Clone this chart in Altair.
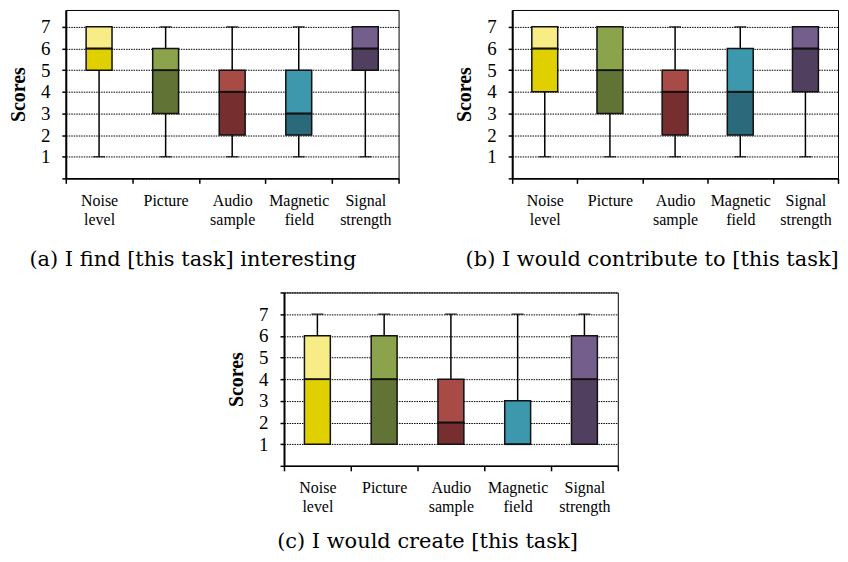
import altair as alt
import pandas as pd

categories = ["Noise level", "Picture", "Audio sample", "Magnetic field", "Signal strength"]
light_colors = ["#F7EC85", "#8BA34B", "#A84B47", "#3D97AD", "#745E8C"]
dark_colors = ["#E0D000", "#617435", "#772E2F", "#2A6A7A", "#503F5E"]

# (a) I find [this task] interesting
a_min = [1, 1, 1, 1, 1]
a_q1 = [5, 3, 2, 2, 5]
a_med = [6, 5, 4, 3, 6]
a_q3 = [7, 6, 5, 5, 7]
a_max = [7, 7, 7, 7, 7]

# (b) I would contribute to [this task]
b_min = [1, 1, 1, 1, 1]
b_q1 = [4, 3, 2, 2, 4]
b_med = [6, 5, 4, 4, 6]
b_q3 = [7, 7, 5, 6, 7]
b_max = [7, 7, 7, 7, 7]

# (c) I would create [this task]
c_min = [1, 1, 1, 1, 1]
c_q1 = [1, 1, 1, 1, 1]
c_med = [4, 4, 2, 1, 4]
c_q3 = [6, 6, 4, 3, 6]
c_max = [7, 7, 7, 7, 7]

captions = ["(a) I find [this task] interesting",
            "(b) I would contribute to [this task]",
            "(c) I would create [this task]"]

SERIF = "Liberation Serif"
CAPFONT = "DejaVu Serif"


def panel(mins, q1, med, q3, maxs, caption, dx, dom_top, height, width, cap_offset):
    df = pd.DataFrame({
        "cat": categories, "mn": mins, "q1": q1, "med": med, "q3": q3, "mx": maxs,
        "light": light_colors, "dark": dark_colors,
    })
    vals = [v for v in range(0, 9) if v <= dom_top]
    x = alt.X("cat:N", sort=categories, title=None,
              axis=alt.Axis(labelAngle=0, labelFont=SERIF, labelFontSize=16,
                            labelColor="black", labelLineHeight=19,
                            labelExpr="split(datum.label, ' ')",
                            labelPadding=9,
                            domainColor="black", domainWidth=1.5,
                            tickColor="black", tickWidth=1.5, tickSize=5,
                            tickBand="extent", grid=False))
    yscale = alt.Scale(domain=[0, dom_top], nice=False, zero=False)
    yaxis = alt.Axis(values=vals, labelExpr="datum.value >= 1 && datum.value <= 7 ? datum.label : ''",
                     labelFont=SERIF, labelFontSize=19, labelColor="black", labelPadding=12,
                     domainColor="black", domainWidth=2,
                     tickColor="black", tickWidth=1.5, tickSize=4,
                     grid=True, gridColor="black", gridDash=[1.5, 1], gridWidth=1,
                     title="Scores", titleFont=SERIF, titleFontSize=20, titleFontWeight="bold",
                     titleColor="black", titlePadding=12)

    def Y(field):
        return alt.Y(field, scale=yscale, axis=yaxis, title="Scores")

    base = alt.Chart(df)
    wl = base.mark_rule(color="black", strokeWidth=1.5).encode(
        x=x, y=Y("mn:Q"), y2="q1:Q")
    wh = base.mark_rule(color="black", strokeWidth=1.5).encode(
        x=x, y=Y("q3:Q"), y2="mx:Q")
    cap_lo = base.mark_tick(color="black", size=12, thickness=1.5).encode(
        x=x, y=Y("mn:Q"))
    cap_hi = base.mark_tick(color="black", size=12, thickness=1.5).encode(
        x=x, y=Y("mx:Q"))
    lo = base.mark_bar(width=26, stroke="#111111", strokeWidth=1.5, opacity=1).encode(
        x=x, y=Y("q1:Q"), y2="med:Q",
        color=alt.Color("dark:N", scale=None))
    hi = base.mark_bar(width=26, stroke="#111111", strokeWidth=1.5, opacity=1).encode(
        x=x, y=Y("med:Q"), y2="q3:Q",
        color=alt.Color("light:N", scale=None))
    md = base.mark_tick(color="#111111", size=26, thickness=2).encode(
        x=x, y=Y("med:Q"))
    return alt.layer(wl, wh, cap_lo, cap_hi, lo, hi, md).properties(
        width=width, height=height,
        view=alt.ViewBackground(stroke="black", strokeWidth=1),
        title=alt.TitleParams(caption, orient="bottom", anchor="middle", frame="group",
                              font=CAPFONT, fontSize=21, fontWeight="normal",
                              color="black", offset=cap_offset, dx=dx))


pa = panel(a_min, a_q1, a_med, a_q3, a_max, captions[0], -39.5, 7.78, 169, 334, 22)
pb = panel(b_min, b_q1, b_med, b_q3, b_max, captions[1], -23, 7.78, 169, 327, 22)
pc = panel(c_min, c_q1, c_med, c_q3, c_max, captions[2], -23.5, 8, 174, 335, 16)

spacer = alt.Chart(pd.DataFrame({"v": [0]})).mark_point(opacity=0).encode(
    x=alt.value(0), y=alt.value(0)
).properties(width=160.5, height=10, view=alt.ViewBackground(stroke="transparent"))

top = alt.hconcat(pa, pb, spacing=54)
bottom = alt.hconcat(spacer, pc, spacing=0)
chart = alt.vconcat(top, bottom, spacing=17.5).properties(
    padding={"left": 0, "top": 0, "right": 0, "bottom": 0}
).configure_view(stroke="black").configure_axisY(
    titleFont=SERIF, titleFontSize=20, titleFontWeight="bold", titleColor="black",
    labelFont=SERIF, labelFontSize=19, labelColor="black"
)

chart.save("out.html", embed_options={"renderer": "svg", "actions": False})
